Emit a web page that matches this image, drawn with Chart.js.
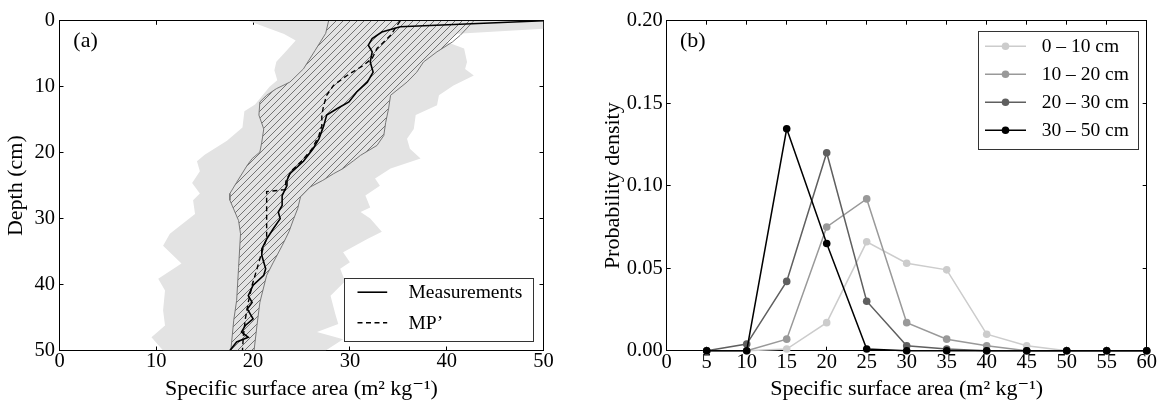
<!DOCTYPE html>
<html>
<head>
<meta charset="utf-8">
<script src="https://cdn.jsdelivr.net/npm/chart.js@4.4.0/dist/chart.umd.min.js"></script>
<style>
  html, body { margin: 0; padding: 0; background: #fff; overflow: hidden; }
  #chartA { position: absolute; left: 0; top: 0; }
  #chartB { position: absolute; left: 581px; top: 0; }
</style>
</head>
<body>
<canvas id="chartA" width="581" height="405" style="width:581px;height:405px"></canvas>
<canvas id="chartB" width="581" height="405" style="width:581px;height:405px"></canvas>
<script>
// ---------------- Panel (a): pairs are [depth (cm), specific surface area (m2 kg-1)] ----------------
const envelopeMin = [[0,19.5],[2.0,23.2],[3.0,24.4],[4.6,23.4],[6.2,22.4],[7.5,22.2],[9.0,22.5],[10.0,21.7],[12.7,20.2],[13.7,19.1],[16.2,18.9],[18.2,17.3],[20.3,15.0],[21.3,14.2],[22.8,14.5],[24.6,13.7],[26.2,14.5],[27.2,13.8],[29.3,14.0],[32.3,11.4],[34.1,10.7],[36.8,12.6],[39.1,10.2],[40.9,10.9],[43.9,10.7],[46.2,10.9],[48.0,9.5],[50,10.7]];
const envelopeMax = [[0,50],[1.2,50],[1.95,41.1],[3.2,40.0],[4.2,41.8],[6.25,42.1],[7.3,41.9],[8.3,42.8],[9.8,40.7],[11.3,39.2],[12.8,39.0],[14.3,36.8],[16.4,36.6],[17.9,35.9],[19.4,36.2],[20.9,37.3],[22.4,34.2],[23.9,32.6],[25.0,33.1],[26.5,31.6],[28.3,32.1],[29.0,31.1],[30.0,32.1],[32.0,33.3],[33.1,31.8],[35.1,29.3],[36.6,30.0],[37.6,29.0],[39.5,29.5],[41.7,28.0],[44.5,28.5],[46.0,28.8],[47.2,26.6],[48.3,29.3],[50,27.5]];
const quartileLow = [[0,27.8],[1.9,27.5],[4.5,26.4],[7.3,25.2],[9.3,23.8],[10.3,22.4],[11.3,21.4],[12.3,20.7],[14.3,20.6],[16.4,21.1],[18.4,20.9],[19.9,20.7],[20.9,19.9],[21.9,19.4],[24.5,18.3],[26.2,17.6],[27.2,17.6],[30.3,18.5],[32.3,18.7],[37.4,18.5],[42.4,18.3],[45.4,18.0],[50,17.7]];
const quartileHigh = [[0,42.8],[2.2,41.4],[3.2,40.6],[4.7,39.0],[6.25,37.6],[7.8,36.9],[9.3,35.9],[11.3,34.2],[13.3,34.0],[15.4,33.7],[17.4,33.5],[18.9,32.8],[20.4,31.1],[21.2,30.4],[22.4,29.3],[23.2,28.3],[24.2,27.2],[25.2,25.9],[26.7,24.9],[28.5,24.6],[30.0,24.2],[32.0,23.7],[34.1,23.0],[36.6,22.1],[38.6,21.4],[42.7,20.7],[46.2,20.4],[50,20.1]];
const measurements = [[0,50],[0.9,35.2],[1.7,33.3],[2.7,32.3],[3.7,31.9],[4.7,32.3],[6.25,32.1],[7.8,32.4],[9.3,31.8],[10.8,30.7],[12.3,29.9],[13.3,28.7],[14.3,27.6],[15.9,27.3],[17.9,26.8],[19.4,26.2],[21.3,25.2],[23.2,23.8],[24.2,23.5],[25.0,23.5],[26.5,23.0],[28.0,23.0],[29.0,22.6],[30.0,22.8],[31.5,22.1],[33.1,21.4],[34.6,20.9],[35.6,20.9],[37.6,21.3],[38.6,21.1],[40.1,20.0],[41.7,19.5],[42.7,19.9],[43.7,19.4],[45.2,20.0],[46.2,19.2],[47.2,18.8],[48.0,19.5],[48.7,18.3],[50,17.6]];
const mpPrime = [[0,35.2],[2.2,34.2],[4.2,32.8],[5.7,32.3],[6.75,31.4],[8.3,29.7],[9.8,28.3],[11.3,27.6],[12.8,27.3],[14.3,27.1],[15.9,27.1],[17.4,26.8],[19.4,26.1],[21.3,25.0],[22.7,24.0],[24.2,23.4],[25.6,23.3],[25.9,21.4],[30.0,21.4],[33.0,21.4],[35.1,20.9],[37.6,20.4],[40.1,19.9],[42.7,19.5],[45.2,19.2],[47.7,19.0],[50,18.9]];
const profileLabels = ['Measurements', 'MP\u2019'];
const ssaTicksA = { min: 0, max: 50, step: 10 };
const depthTicksA = { min: 0, max: 50, step: 10 };

// ---------------- Panel (b): probability density per layer ----------------
const ssaBins   = [5, 10, 15, 20, 25, 30, 35, 40, 45, 50, 55, 60];
const pdf0to10  = [0, 0, 0.001, 0.017, 0.066, 0.053, 0.049, 0.010, 0.003, 0, 0, 0];
const pdf10to20 = [0, 0, 0.007, 0.075, 0.092, 0.017, 0.007, 0.003, 0, 0, 0, 0];
const pdf20to30 = [0, 0.004, 0.042, 0.120, 0.030, 0.003, 0.001, 0, 0, 0, 0, 0];
const pdf30to50 = [0, 0, 0.1345, 0.065, 0.001, 0, 0, 0, 0, 0, 0, 0];
const layerLabels = ['0 \u2013 10 cm', '10 \u2013 20 cm', '20 \u2013 30 cm', '30 \u2013 50 cm'];
const ssaTicksB = { min: 0, max: 60, step: 5 };
const densityTicksB = { min: 0, max: 0.2, step: 0.05 };

// ---------------- Styling ----------------
const F = "'Liberation Serif', 'Times New Roman', 'DejaVu Serif', serif";
const xTitleText = 'Specific surface area (m\u00B2 kg\u207B\u00B9)';
Chart.defaults.font.family = F;
Chart.defaults.color = '#000';
const tickFont = { family: F, size: 20.5 };
const titleFont = { family: F, size: 22 };

function hatchPattern() {
  const s = 7;
  const c = document.createElement('canvas');
  c.width = s; c.height = s;
  const g = c.getContext('2d');
  g.strokeStyle = '#666';
  g.lineWidth = 0.9;
  g.beginPath();
  g.moveTo(0, s); g.lineTo(s, 0);
  g.moveTo(-1, 1); g.lineTo(1, -1);
  g.moveTo(s - 1, s + 1); g.lineTo(s + 1, s - 1);
  g.stroke();
  return document.createElement('canvas').getContext('2d').createPattern(c, 'repeat');
}

const toXY = arr => arr.map(([d, v]) => ({ x: v, y: d }));
const gridIn = { drawOnChartArea: false, drawTicks: true, tickLength: -4, color: '#000', lineWidth: 1 };
const frame = { display: true, color: '#000', width: 1 };

function bottomAxis(t, title, h) {
  return { type: 'linear', position: 'bottom', min: t.min, max: t.max,
    ticks: { stepSize: t.step, font: tickFont, color: '#000', padding: 3.2, maxRotation: 0, autoSkip: false },
    grid: gridIn, border: frame,
    title: { display: true, text: title, font: titleFont, color: '#000', padding: { top: 0, bottom: 2.5 } },
    afterFit(s) { s.height = h; } };
}
function leftAxis(t, title, w, tpad, lpad, reverse, cb) {
  return { type: 'linear', position: 'left', min: t.min, max: t.max, reverse,
    ticks: { stepSize: t.step, font: tickFont, color: '#000', padding: lpad, callback: cb },
    grid: gridIn, border: frame,
    title: { display: true, text: title, font: titleFont, color: '#000', padding: { top: tpad, bottom: 0 } },
    afterFit(s) { s.width = w; } };
}
function mirrorAxis(pos, t, reverse) {
  return { type: 'linear', position: pos, min: t.min, max: t.max, reverse,
    ticks: { stepSize: t.step, display: false },
    grid: gridIn, border: frame,
    afterFit(s) { if (pos === 'top') s.height = 0; else s.width = 0; } };
}

const boxLegend = {
  id: 'boxLegend',
  afterDraw(chart, args, o) {
    const { ctx, chartArea: a } = chart;
    const items = chart.data.datasets.filter(d => d.inLegend);
    const x0 = a.right - o.right - o.width;
    const y0 = o.anchor === 'top' ? a.top + o.offset : a.bottom - o.offset - o.height;
    ctx.save();
    ctx.fillStyle = '#fff';
    ctx.fillRect(x0, y0, o.width, o.height);
    ctx.strokeStyle = '#333';
    ctx.lineWidth = 1;
    ctx.strokeRect(Math.round(x0) + 0.5, Math.round(y0) + 0.5, Math.round(o.width), Math.round(o.height));
    items.forEach((d, i) => {
      const y = y0 + o.firstRow + i * o.rowGap;
      ctx.strokeStyle = d.borderColor;
      ctx.lineWidth = d.borderWidth;
      ctx.setLineDash(d.borderDash || []);
      ctx.beginPath();
      ctx.moveTo(x0 + o.lineX0, y);
      ctx.lineTo(x0 + o.lineX1, y);
      ctx.stroke();
      ctx.setLineDash([]);
      if (d.pointRadius > 0) {
        ctx.fillStyle = d.pointBackgroundColor;
        ctx.beginPath();
        ctx.arc(x0 + (o.lineX0 + o.lineX1) / 2, y, d.pointRadius, 0, Math.PI * 2);
        ctx.fill();
      }
      ctx.fillStyle = '#000';
      ctx.font = `${o.fontSize}px ${F}`;
      ctx.textBaseline = 'middle';
      ctx.textAlign = 'left';
      ctx.fillText(d.label, x0 + o.textX, y + 1);
    });
    ctx.restore();
  }
};
const panelTag = {
  id: 'panelTag',
  afterDraw(chart, args, o) {
    const { ctx, chartArea: a } = chart;
    ctx.save();
    ctx.font = `22px ${F}`;
    ctx.fillStyle = '#000';
    ctx.textBaseline = 'alphabetic';
    ctx.fillText(o.text, a.left + o.dx, a.top + o.dy);
    ctx.restore();
  }
};

// ---------------- Chart (a) ----------------
const hatch = hatchPattern();
new Chart(document.getElementById('chartA'), {
  type: 'line',
  data: {
    datasets: [
      { data: toXY(envelopeMin), borderWidth: 0, borderColor: 'rgba(0,0,0,0)', backgroundColor: '#e3e3e3', fill: '+1', pointRadius: 0, order: 10 },
      { data: toXY(envelopeMax), borderWidth: 0, borderColor: 'rgba(0,0,0,0)', fill: false, pointRadius: 0, order: 9 },
      { data: toXY(quartileLow), borderWidth: 1, borderColor: '#777', backgroundColor: hatch, fill: '+1', pointRadius: 0, order: 8 },
      { data: toXY(quartileHigh), borderWidth: 1, borderColor: '#777', fill: false, pointRadius: 0, order: 7 },
      { label: profileLabels[0], inLegend: true, data: toXY(measurements), borderWidth: 1.6, borderColor: '#000', fill: false, pointRadius: 0, order: 5 },
      { label: profileLabels[1], inLegend: true, data: toXY(mpPrime), borderWidth: 1.4, borderColor: '#000', borderDash: [5, 3.5], fill: false, pointRadius: 0, order: 6 }
    ]
  },
  options: {
    responsive: false, animation: false, indexAxis: 'y',
    layout: { padding: { left: 0, top: 20.5, right: 37.5, bottom: 0 } },
    elements: { line: { tension: 0 } },
    scales: {
      x: bottomAxis(ssaTicksA, xTitleText, 54.5),
      y: leftAxis(depthTicksA, 'Depth (cm)', 59.5, 2.8, 8.5, true),
      x2: mirrorAxis('top', ssaTicksA, false),
      y2: mirrorAxis('right', depthTicksA, true)
    },
    plugins: {
      legend: { display: false }, tooltip: { enabled: false },
      boxLegend: { anchor: 'bottom', offset: 9.3, right: 9.7, width: 189.3, height: 63, firstRow: 14, rowGap: 30.6, lineX0: 13, lineX1: 42.7, textX: 64, fontSize: 19.5 },
      panelTag: { text: '(a)', dx: 13.8, dy: 26.2 }
    }
  },
  plugins: [boxLegend, panelTag]
});

// ---------------- Chart (b) ----------------
const layerSeries = [pdf0to10, pdf10to20, pdf20to30, pdf30to50];
const layerColors = ['#cccccc', '#999999', '#5f5f5f', '#000000'];
new Chart(document.getElementById('chartB'), {
  type: 'line',
  data: {
    datasets: layerSeries.map((vals, i) => ({
      label: layerLabels[i], inLegend: true,
      data: ssaBins.map((s, j) => ({ x: s, y: vals[j] })),
      borderColor: layerColors[i], backgroundColor: layerColors[i],
      pointBackgroundColor: layerColors[i], pointBorderColor: layerColors[i],
      borderWidth: 1.5, pointRadius: 3.8, pointBorderWidth: 0, fill: false,
      clip: false, order: 4 - i
    }))
  },
  options: {
    responsive: false, animation: false,
    layout: { padding: { left: 0, top: 20.7, right: 15.3, bottom: 0 } },
    elements: { line: { tension: 0 } },
    scales: {
      x: bottomAxis(ssaTicksB, xTitleText, 54.3),
      y: leftAxis(densityTicksB, 'Probability density', 85.7, 19.4, 8, false, v => Number(v).toFixed(2)),
      x2: mirrorAxis('top', ssaTicksB, false),
      y2: mirrorAxis('right', densityTicksB, false)
    },
    plugins: {
      legend: { display: false }, tooltip: { enabled: false },
      boxLegend: { anchor: 'top', offset: 10, right: 8.7, width: 160.3, height: 117.6, firstRow: 15.5, rowGap: 28, lineX0: 7.3, lineX1: 48.3, textX: 64, fontSize: 19.5 },
      panelTag: { text: '(b)', dx: 13.3, dy: 26 }
    }
  },
  plugins: [boxLegend, panelTag]
});
</script>
</body>
</html>
